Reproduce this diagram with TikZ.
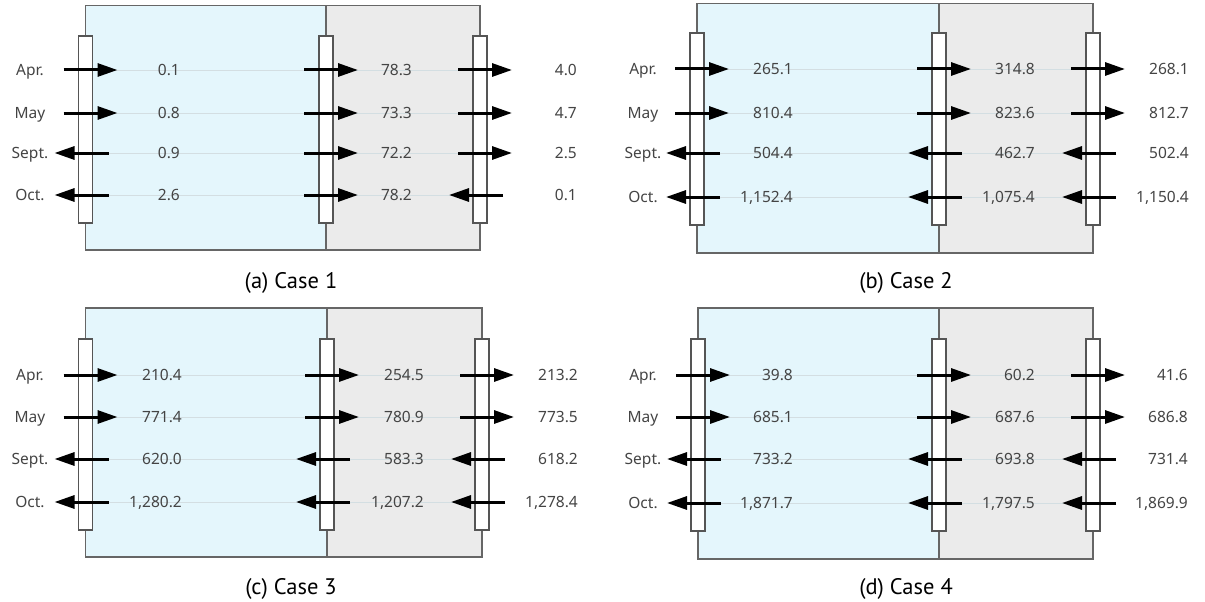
\documentclass[tikz,border=0pt]{standalone}
\usepackage{fontspec}
\setmainfont{Noto Sans}
\newfontfamily\capfont{PT Sans}
\usetikzlibrary{arrows.meta}
\definecolor{bluefill}{HTML}{E4F6FC}
\definecolor{grayfill}{HTML}{EBEBEB}
\definecolor{framecol}{HTML}{666666}
\definecolor{barcol}{HTML}{555555}
\definecolor{txtcol}{HTML}{444444}
\definecolor{rowcol}{HTML}{D3DEE2}
\tikzset{
  frame/.style={draw=framecol, line width=1.3pt},
  rowline/.style={draw=rowcol, line width=0.9pt},
  barbox/.style={draw=barcol, fill=white, line width=1.3pt, minimum width=14pt, inner sep=0pt},
  flow/.style={draw=black, line width=3pt, -{Triangle[length=20pt,width=13pt]}},
  valtext/.style={font=\fontsize{15.5}{15.5}\selectfont, text=txtcol, anchor=east, inner sep=0pt, text height=11pt, text depth=0pt},
  monthtext/.style={font=\fontsize{15.5}{15.5}\selectfont, text=txtcol, anchor=center, inner sep=0pt, text height=11pt, text depth=0pt},
  captext/.style={font=\capfont\fontsize{22.5}{22.5}\selectfont, text=black, inner sep=0pt, anchor=base}
}
\newcommand{\drawpanel}[5]{%
  \fill[bluefill] (\pL,\pT) rectangle (\pD,\pB);
  \fill[grayfill] (\pD,\pT) rectangle (\pR,\pB);
  \foreach \yy in {\ya,\yb,\yc,\yd} \draw[rowline] (\pL,\yy) -- (\pR,\yy);
  \draw[frame] (\pL,\pT) rectangle (\pR,\pB);
  \draw[frame] (\pD,\pT) -- (\pD,\pB);
  \node[barbox, minimum height={\bB-\bT}] (#1-bar1) at (\pL,{(\bT+\bB)/2}) {};
  \node[barbox, minimum height={\bB-\bT}] (#1-bar2) at (\pD,{(\bT+\bB)/2}) {};
  \node[barbox, minimum height={\bB-\bT}] (#1-bar3) at (\pR,{(\bT+\bB)/2}) {};
  \foreach \m/\yy [count=\i] in {Apr./\ya, May/\yb, Sept./\yc, Oct./\yd}
    \node[monthtext] (#1-m\i) at (\mx,\yy) {\m};
  \foreach \c/\r/\d/\v in {#2}{
    \ifcase\c\or\def\xx{\pL}\def\vx{\vA}\or\def\xx{\pD}\def\vx{\vB}\or\def\xx{\pR}\def\vx{\vC}\fi
    \ifcase\r\or\def\yy{\ya}\or\def\yy{\yb}\or\def\yy{\yc}\or\def\yy{\yd}\fi
    \if\d r
      \coordinate (#1-s\c\r) at ({\xx-22},\yy);
      \coordinate (#1-e\c\r) at ({\xx+32},\yy);
    \else
      \coordinate (#1-s\c\r) at ({\xx+23},\yy);
      \coordinate (#1-e\c\r) at ({\xx-31},\yy);
    \fi
    \draw[flow] (#1-s\c\r) -- (#1-e\c\r);
    \node[valtext] (#1-v\c\r) at (\vx,\yy) {\v};
  }
  \node[captext] (#1-cap) at (#4,#5) {#3};
}
\begin{document}
\begin{tikzpicture}[x=1pt,y=-1pt]
\useasboundingbox (0,0) rectangle (1205,602);
% (a)
\def\pL{85.5}\def\pD{326}\def\pR{480}\def\pT{5.5}\def\pB{250}\def\bT{36}\def\bB{223}
\def\ya{70}\def\yb{113}\def\yc{153}\def\yd{195}
\def\vA{180}\def\vB{412}\def\vC{577}\def\mx{30}
\drawpanel{a}{1/1/r/0.1, 1/2/r/0.8, 1/3/l/0.9, 1/4/l/2.6, 2/1/r/78.3, 2/2/r/73.3, 2/3/r/72.2, 2/4/r/78.2, 3/1/r/4.0, 3/2/r/4.7, 3/3/r/2.5, 3/4/l/0.1}{(a) Case 1}{291}{288}
% (b)
\def\pL{697}\def\pD{939}\def\pR{1093}\def\pT{3.5}\def\pB{253}\def\bT{33}\def\bB{225}
\def\ya{69}\def\yb{113}\def\yc{153}\def\yd{197}
\def\vA{793}\def\vB{1035}\def\vC{1189}\def\mx{643}
\drawpanel{b}{1/1/r/265.1, 1/2/r/810.4, 1/3/l/504.4, 1/4/l/{1,152.4}, 2/1/r/314.8, 2/2/r/823.6, 2/3/l/462.7, 2/4/l/{1,075.4}, 3/1/r/268.1, 3/2/r/812.7, 3/3/l/502.4, 3/4/l/{1,150.4}}{(b) Case 2}{906}{288}
% (c)
\def\pL{85.5}\def\pD{327}\def\pR{482}\def\pT{308}\def\pB{557}\def\bT{339}\def\bB{530}
\def\ya{375}\def\yb{417}\def\yc{459}\def\yd{502}
\def\vA{182}\def\vB{424}\def\vC{578}\def\mx{30}
\drawpanel{c}{1/1/r/210.4, 1/2/r/771.4, 1/3/l/620.0, 1/4/l/{1,280.2}, 2/1/r/254.5, 2/2/r/780.9, 2/3/l/583.3, 2/4/l/{1,207.2}, 3/1/r/213.2, 3/2/r/773.5, 3/3/l/618.2, 3/4/l/{1,278.4}}{(c) Case 3}{291}{594}
% (d)
\def\pL{698}\def\pD{939}\def\pR{1093}\def\pT{308}\def\pB{559}\def\bT{339}\def\bB{531}
\def\ya{375}\def\yb{417}\def\yc{459}\def\yd{503}
\def\vA{793}\def\vB{1035}\def\vC{1188}\def\mx{643}
\drawpanel{d}{1/1/r/39.8, 1/2/r/685.1, 1/3/l/733.2, 1/4/l/{1,871.7}, 2/1/r/60.2, 2/2/r/687.6, 2/3/l/693.8, 2/4/l/{1,797.5}, 3/1/r/41.6, 3/2/r/686.8, 3/3/l/731.4, 3/4/l/{1,869.9}}{(d) Case 4}{906}{594}
\end{tikzpicture}
\end{document}
